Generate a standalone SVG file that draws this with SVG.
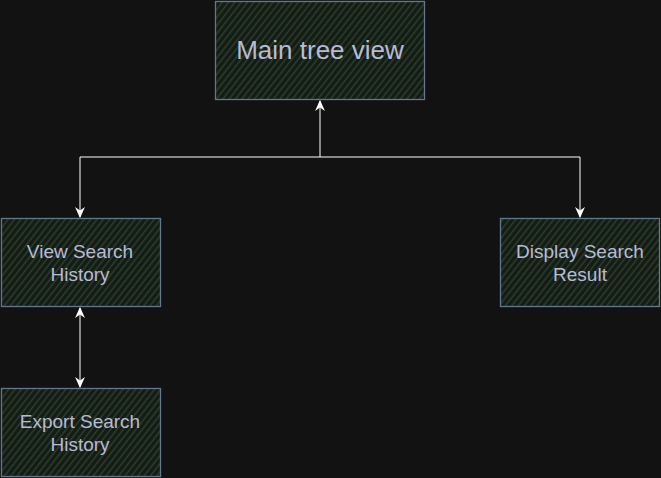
<svg xmlns="http://www.w3.org/2000/svg" width="661" height="478" viewBox="0 0 661 478">
  <defs>
    <pattern id="hatch" width="5" height="5" patternUnits="userSpaceOnUse" patternTransform="rotate(38)">
      <rect width="5" height="5" fill="#161a16"/>
      <line x1="1.5" y1="0" x2="1.5" y2="5" stroke="#27452a" stroke-width="1.4"/>
    </pattern>
    <marker id="arr" viewBox="0 0 10 10" refX="9" refY="5" markerWidth="11" markerHeight="11" markerUnits="userSpaceOnUse" orient="auto-start-reverse">
      <path d="M0,0.5 L10,5 L0,9.5 L3,5 Z" fill="#ffffff"/>
    </marker>
    <style>
      .box { fill: url(#hatch); stroke: #62768e; stroke-width: 1.3; }
      .lbl { font-family: "Liberation Sans", Arial, sans-serif; fill: #b8bbd6; text-anchor: middle; }
      .conn { fill: none; stroke: #ffffff; stroke-width: 1; }
    </style>
  </defs>
  <rect width="661" height="478" fill="#121212"/>
  <g id="connectors">
    <path class="conn" d="M320,157 L320,101" marker-end="url(#arr)"/>
    <path class="conn" d="M80,217 L80,157 L580,157 L580,217" marker-start="url(#arr)" marker-end="url(#arr)"/>
    <path class="conn" d="M80,308 L80,387" marker-start="url(#arr)" marker-end="url(#arr)"/>
  </g>
  <g id="main-tree-view">
    <rect class="box" x="215.5" y="1.5" width="209" height="98"/>
    <text class="lbl" x="320" y="59" font-size="26">Main tree view</text>
  </g>
  <g id="view-search-history">
    <rect class="box" x="1.5" y="218.5" width="159" height="88"/>
    <text class="lbl" x="80" y="258" font-size="19">View Search</text>
    <text class="lbl" x="80" y="281" font-size="19">History</text>
  </g>
  <g id="display-search-result">
    <rect class="box" x="500.5" y="218.5" width="159" height="88"/>
    <text class="lbl" x="580" y="258" font-size="19">Display Search</text>
    <text class="lbl" x="580" y="281" font-size="19">Result</text>
  </g>
  <g id="export-search-history">
    <rect class="box" x="1.5" y="388.5" width="159" height="88"/>
    <text class="lbl" x="80" y="428" font-size="19">Export Search</text>
    <text class="lbl" x="80" y="451" font-size="19">History</text>
  </g>
</svg>
